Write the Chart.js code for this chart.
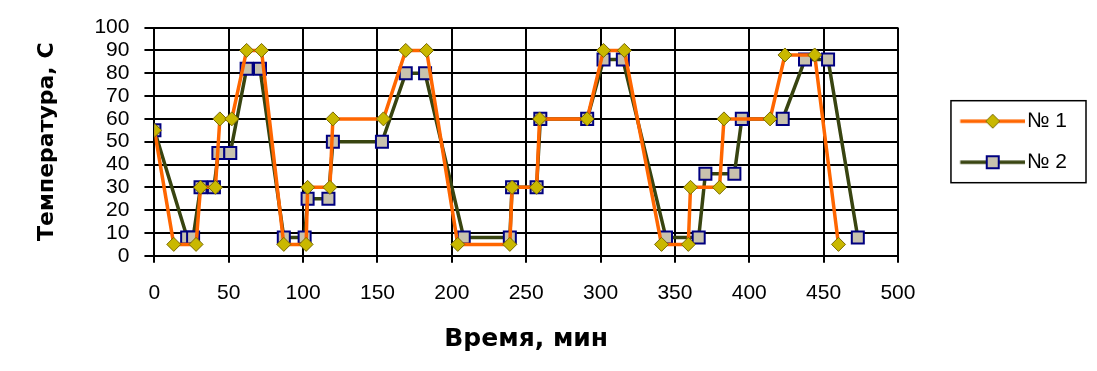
<!DOCTYPE html>
<html>
<head>
<meta charset="utf-8">
<script src="https://cdn.jsdelivr.net/npm/chart.js@4"></script>
<style>
  body { margin: 0; background: #fff; }
</style>
</head>
<body>
<canvas id="myChart" width="1097" height="371"></canvas>
<script>
// Данные: время (мин) и температура (C)
const timeS1 = [0, 13, 28, 31, 41, 44, 52, 62, 72, 87, 102, 103, 118, 120, 154, 169, 183, 204, 239, 240.5, 257, 259, 291, 302, 316, 341, 359, 360.5, 380, 383, 414, 424, 444, 460];
const tempS1 = [55, 5, 5, 30, 30, 60, 60, 90, 90, 5, 5, 30, 30, 60, 60, 90, 90, 5, 5, 30, 30, 60, 60, 90, 90, 5, 5, 30, 30, 60, 60, 88, 88, 5];

const timeS2 = [0, 22, 26, 31, 40, 43, 51, 62, 71, 87, 101, 103, 117, 120, 153, 169, 182, 208, 239, 240.5, 257, 259.5, 291, 302, 315, 344, 366, 370.5, 390, 395, 422.5, 437.5, 453, 473];
const tempS2 = [55, 8, 8, 30, 30, 45, 45, 82, 82, 8, 8, 25, 25, 50, 50, 80, 80, 8, 8, 30, 30, 60, 60, 86, 86, 8, 8, 36, 36, 60, 60, 86, 86, 8];

const seriesNames = ['№ 1', '№ 2'];
const xTicks = [0, 50, 100, 150, 200, 250, 300, 350, 400, 450, 500];
const yTicks = [0, 10, 20, 30, 40, 50, 60, 70, 80, 90, 100];

const orange = '#ff6600';
const olive = '#384410';
const PW = 98.5; // ancho de la muestra en la leyenda (incluye el hueco)

function toPoints(xs, ys) {
  return xs.map((x, i) => ({ x: x, y: ys[i] }));
}

// muestra de línea + marcador para la leyenda
function legendSample(color, marker) {
  const W = PW + 17, H = 20;
  const c = document.createElement('canvas');
  c.width = W; c.height = H;
  const g = c.getContext('2d');
  g.strokeStyle = color;
  g.lineWidth = 3.5;
  g.beginPath();
  g.moveTo(W - 65, H / 2);
  g.lineTo(W, H / 2);
  g.stroke();
  const cx = W - 32.5, cy = H / 2;
  if (marker === 'diamond') {
    g.fillStyle = '#c9b800';
    g.strokeStyle = '#7a6a00';
    g.lineWidth = 1;
    g.beginPath();
    g.moveTo(cx, cy - 7); g.lineTo(cx + 7, cy); g.lineTo(cx, cy + 7); g.lineTo(cx - 7, cy);
    g.closePath(); g.fill(); g.stroke();
  } else {
    g.fillStyle = '#c8c2ae';
    g.strokeStyle = '#000080';
    g.lineWidth = 2;
    g.fillRect(cx - 6, cy - 6, 12, 12);
    g.strokeRect(cx - 6, cy - 6, 12, 12);
  }
  return c;
}
const samples = [legendSample(orange, 'diamond'), legendSample(olive, 'square')];

// borde del cuadro de la leyenda
const legendBorder = {
  id: 'legendBorder',
  afterDraw(chart) {
    const lg = chart.legend;
    if (!lg || !lg.legendHitBoxes.length) return;
    const hb = lg.legendHitBoxes;
    const left = hb[0].left + PW - 56.5 - 9;
    const right = Math.max(...hb.map(h => h.left + h.width)) + 19;
    const top = hb[0].top - 10;
    const bottom = hb[hb.length - 1].top + hb[hb.length - 1].height + 10;
    const ctx = chart.ctx;
    ctx.save();
    ctx.strokeStyle = '#000';
    ctx.lineWidth = 1.5;
    ctx.strokeRect(left, top, right - left, bottom - top);
    ctx.restore();
  }
};

const tickFont = { family: "'Liberation Sans', Arial, sans-serif", size: 21 };

const ctx = document.getElementById('myChart').getContext('2d');
const myChart = new Chart(ctx, {
  type: 'line',
  data: {
    datasets: [{
      label: seriesNames[0],
      data: toPoints(timeS1, tempS1),
      borderColor: orange,
      borderWidth: 3.5,
      pointStyle: 'rectRot',
      pointRadius: 7,
      pointBackgroundColor: '#c9b800',
      pointBorderColor: '#7a6a00',
      pointBorderWidth: 1,
      tension: 0
    }, {
      label: seriesNames[1],
      data: toPoints(timeS2, tempS2),
      borderColor: olive,
      borderWidth: 3.5,
      pointStyle: 'rect',
      pointRadius: 8.5,
      pointBackgroundColor: '#c8c2ae',
      pointBorderColor: '#000080',
      pointBorderWidth: 2,
      tension: 0
    }]
  },
  options: {
    responsive: false,
    animation: false,
    layout: { padding: { left: 34, top: 20, right: 20, bottom: 17 } },
    scales: {
      x: {
        type: 'linear',
        min: 0,
        max: 500,
        afterBuildTicks: (axis) => { axis.ticks = xTicks.map(v => ({ value: v })); },
        ticks: { font: tickFont, color: '#000', padding: 18, maxRotation: 0, autoSkip: false },
        grid: { color: '#000', lineWidth: 2, tickLength: 7, tickColor: '#000' },
        border: { color: '#000', width: 2 },
        title: {
          display: true,
          text: 'Время, мин',
          color: '#000',
          font: { family: "'DejaVu Sans', sans-serif", size: 25, weight: 'bold' },
          padding: { top: 0, bottom: 0 }
        }
      },
      y: {
        min: 0,
        max: 100,
        afterBuildTicks: (axis) => { axis.ticks = yTicks.map(v => ({ value: v })); },
        ticks: { font: tickFont, color: '#000', padding: 15, autoSkip: false },
        grid: { color: '#000', lineWidth: 2, tickLength: 10, tickColor: '#000' },
        border: { color: '#000', width: 2 },
        title: {
          display: true,
          text: 'Температура, С',
          color: '#000',
          font: { family: "'DejaVu Sans', sans-serif", size: 22, weight: 'bold' },
          padding: { top: 0, bottom: 19 }
        }
      }
    },
    plugins: {
      legend: {
        position: 'right',
        fullSize: false,
        labels: {
          usePointStyle: true,
          pointStyleWidth: PW,
          color: '#000',
          font: tickFont,
          padding: 20,
          generateLabels: (chart) => {
            const items = Chart.defaults.plugins.legend.labels.generateLabels(chart);
            items.forEach((it, i) => { it.pointStyle = samples[i]; });
            return items;
          }
        }
      },
      tooltip: { enabled: false }
    }
  },
  plugins: [legendBorder]
});
</script>
</body>
</html>
